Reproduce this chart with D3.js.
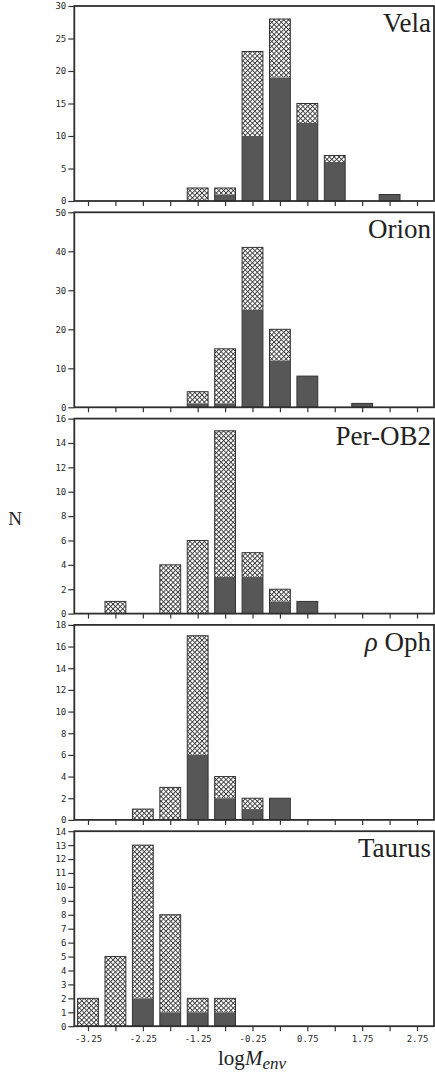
<!DOCTYPE html>
<html>
<head>
<meta charset="utf-8">
<script src="https://cdn.jsdelivr.net/npm/d3@7"></script>
<style>
  body { margin: 0; background: #fff; }
  svg { display: block; }
  .tick text { font-family: "DejaVu Sans Mono", monospace; font-size: 9px; fill: #2a2a2a; }
  .tick line { stroke: #333; stroke-width: 1.2; }
</style>
</head>
<body>
<script>
// bin centres of log M_env (every 0.5 dex)
const binCenters = [-3.25, -2.75, -2.25, -1.75, -1.25, -0.75, -0.25, 0.25, 0.75, 1.25, 1.75, 2.25, 2.75];
const xTickLabels = [-3.25, -2.25, -1.25, -0.25, 0.75, 1.75, 2.75];

// totals (hatched + dark) and dark part, per bin
const velaTotal   = [0, 0, 0, 0, 2, 2, 23, 28, 15, 7, 0, 1, 0];
const velaDark    = [0, 0, 0, 0, 0, 1, 10, 19, 12, 6, 0, 1, 0];
const orionTotal  = [0, 0, 0, 0, 4, 15, 41, 20, 8, 0, 1, 0, 0];
const orionDark   = [0, 0, 0, 0, 1, 1, 25, 12, 8, 0, 1, 0, 0];
const perTotal    = [0, 1, 0, 4, 6, 15, 5, 2, 1, 0, 0, 0, 0];
const perDark     = [0, 0, 0, 0, 0, 3, 3, 1, 1, 0, 0, 0, 0];
const ophTotal    = [0, 0, 1, 3, 17, 4, 2, 2, 0, 0, 0, 0, 0];
const ophDark     = [0, 0, 0, 0, 6, 2, 1, 2, 0, 0, 0, 0, 0];
const taurusTotal = [2, 5, 13, 8, 2, 2, 0, 0, 0, 0, 0, 0, 0];
const taurusDark  = [0, 0, 2, 1, 1, 1, 0, 0, 0, 0, 0, 0, 0];

const panelNames = ["Vela", "Orion", "Per-OB2", "ρ Oph", "Taurus"];
const yMax  = [30, 50, 16, 18, 14];
const yStep = [5, 10, 2, 2, 1];

const panels = [
  {name: panelNames[0], total: velaTotal,   dark: velaDark},
  {name: panelNames[1], total: orionTotal,  dark: orionDark},
  {name: panelNames[2], total: perTotal,    dark: perDark},
  {name: panelNames[3], total: ophTotal,    dark: ophDark},
  {name: panelNames[4], total: taurusTotal, dark: taurusDark}
];

let width = 435,
    height = 1074,
    left = 74.3,
    right = 434,
    top0 = 6,
    pitch = 206.3,
    panelH = 195,
    halfBar = 0.19,
    serif = "'Liberation Serif', 'Times New Roman', serif";

let svg = d3.select("body").append("svg")
  .attr("width", width)
  .attr("height", height);

svg.append("rect").attr("width", width).attr("height", height).attr("fill", "#fff");

// cross-hatch fill
let defs = svg.append("defs");
let pat = defs.append("pattern")
  .attr("id", "hatch")
  .attr("patternUnits", "userSpaceOnUse")
  .attr("width", 3.4).attr("height", 3.4)
  .attr("patternTransform", "rotate(45)");
pat.append("rect").attr("width", 3.4).attr("height", 3.4).attr("fill", "#fff");
pat.append("path")
  .attr("d", "M0,0 H3.4 M0,0 V3.4")
  .attr("stroke", "#3a3a3a")
  .attr("stroke-width", 1.9);

let x = d3.scaleLinear().domain([-3.5, 3.06]).range([left, right]);

panels.forEach(function(p, i) {
  let top = top0 + i * pitch,
      bottom = top + panelH;

  let y = d3.scaleLinear().domain([0, yMax[i]]).range([bottom, top]);

  let g = svg.append("g").attr("class", "panel");

  // bars
  let bins = binCenters.map(function(c, j) {
    return {c: c, total: p.total[j], dark: p.dark[j]};
  }).filter(function(d) { return d.total > 0; });

  let bar = g.selectAll("g.bar").data(bins).enter().append("g").attr("class", "bar");

  bar.append("rect")
    .attr("x", function(d) { return x(d.c - halfBar); })
    .attr("width", function(d) { return x(d.c + halfBar) - x(d.c - halfBar); })
    .attr("y", function(d) { return y(d.total); })
    .attr("height", function(d) { return y(d.dark) - y(d.total); })
    .attr("fill", "url(#hatch)");

  bar.append("rect")
    .attr("x", function(d) { return x(d.c - halfBar); })
    .attr("width", function(d) { return x(d.c + halfBar) - x(d.c - halfBar); })
    .attr("y", function(d) { return y(d.dark); })
    .attr("height", function(d) { return y(0) - y(d.dark); })
    .attr("fill", "#575757");

  bar.append("rect")
    .attr("x", function(d) { return x(d.c - halfBar); })
    .attr("width", function(d) { return x(d.c + halfBar) - x(d.c - halfBar); })
    .attr("y", function(d) { return y(d.total); })
    .attr("height", function(d) { return y(0) - y(d.total); })
    .attr("fill", "none")
    .attr("stroke", "#333")
    .attr("stroke-width", 1);

  // frame
  g.append("rect")
    .attr("x", left).attr("y", top)
    .attr("width", right - left).attr("height", panelH)
    .attr("fill", "none")
    .attr("stroke", "#2e2e2e")
    .attr("stroke-width", 1.8);

  // y axis
  let yAxis = g.append("g")
    .attr("transform", "translate(" + left + ",0)")
    .call(d3.axisLeft(y)
      .tickValues(d3.range(0, yMax[i] + 0.001, yStep[i]))
      .tickSize(6)
      .tickPadding(2));
  yAxis.select(".domain").remove();

  // x axis
  let last = i === panels.length - 1;
  let xAxis = g.append("g")
    .attr("transform", "translate(0," + bottom + ")")
    .call(d3.axisBottom(x)
      .tickValues(binCenters)
      .tickSize(5)
      .tickPadding(4)
      .tickFormat(function(d) {
        return last && xTickLabels.indexOf(d) >= 0 ? d.toFixed(2) : "";
      }));
  xAxis.select(".domain").remove();

  // region name
  let t = g.append("text")
    .attr("x", 431)
    .attr("y", top + 26)
    .attr("text-anchor", "end")
    .attr("font-family", serif)
    .attr("font-size", 27)
    .attr("fill", "#222");
  if (p.name.indexOf("ρ") === 0) {
    t.append("tspan").attr("font-style", "italic").text("ρ");
    t.append("tspan").text(" Oph");
  } else {
    t.text(p.name);
  }
});

// axis titles
svg.append("text")
  .attr("x", 15)
  .attr("y", 525)
  .attr("text-anchor", "middle")
  .attr("font-family", serif)
  .attr("font-size", 19)
  .attr("fill", "#222")
  .text("N");

let xt = svg.append("text")
  .attr("x", 252)
  .attr("y", 1065)
  .attr("text-anchor", "middle")
  .attr("font-family", serif)
  .attr("font-size", 21)
  .attr("fill", "#222");
xt.append("tspan").text("log");
xt.append("tspan").attr("font-style", "italic").text("M");
xt.append("tspan").attr("font-style", "italic").attr("font-size", 17).attr("dy", 4).text("env");
</script>
</body>
</html>
